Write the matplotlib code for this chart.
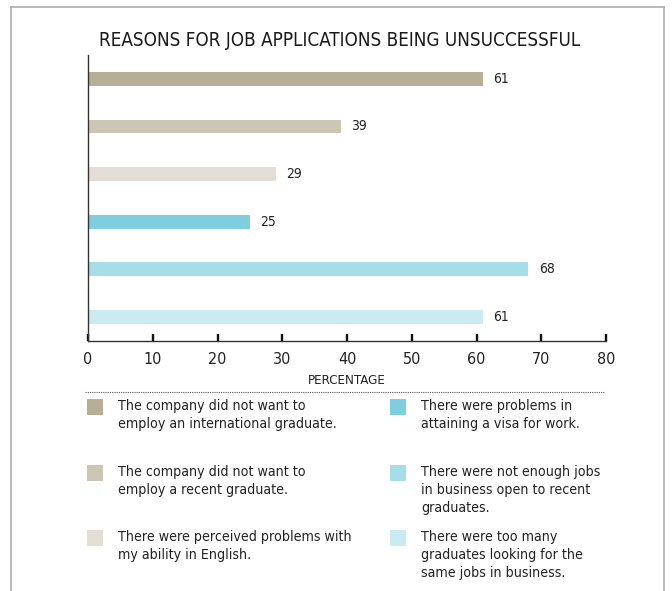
import matplotlib
matplotlib.use("Agg")
import matplotlib.pyplot as plt
from matplotlib.lines import Line2D
from matplotlib.patches import Rectangle

# data
reasons = [
    "The company did not want to\nemploy an international graduate.",
    "The company did not want to\nemploy a recent graduate.",
    "There were perceived problems with\nmy ability in English.",
    "There were problems in\nattaining a visa for work.",
    "There were not enough jobs\nin business open to recent\ngraduates.",
    "There were too many\ngraduates looking for the\nsame jobs in business.",
]
percent = [61, 39, 29, 25, 68, 61]
colors = ["#b7ae96", "#cdc6b4", "#e2ded6", "#7ecedf", "#a6dde8", "#c9ebf1"]
xticks = [0, 10, 20, 30, 40, 50, 60, 70, 80]

plt.rcParams["font.family"] = ["DejaVu Sans"]
plt.rcParams["font.stretch"] = "condensed"
text_col = "#222222"

W, H = 672, 591
fig = plt.figure(figsize=(W / 100, H / 100), dpi=100)


def fx(px):
    return px / W


def fy(py):
    return 1 - py / H


# main axes, placed in pixel terms
ax_l, ax_r, ax_t, ax_b = 88, 606, 55, 340.7
ax = fig.add_axes([fx(ax_l), fy(ax_b), fx(ax_r - ax_l), (ax_b - ax_t) / H])

pos = list(range(len(percent)))
ax.barh(pos, percent, height=0.29, color=colors, zorder=2)
for p, v in zip(pos, percent):
    ax.annotate(str(v), (v, p), xytext=(7.5, 0), textcoords="offset points",
                va="center", ha="left", fontsize=10, color=text_col)

ax.set_xlim(0, 80)
ax.set_ylim(5.5, -0.5)
ax.set_xticks(xticks)
ax.set_yticks([])
ax.tick_params(axis="x", direction="in", length=5, width=1.7, color="#111111",
               labelsize=11.5, labelcolor=text_col, pad=8)
for s in ["top", "right"]:
    ax.spines[s].set_visible(False)
ax.spines["left"].set_color("#333333")
ax.spines["left"].set_linewidth(1.0)
ax.spines["bottom"].set_color("#333333")
ax.spines["bottom"].set_linewidth(1.0)
ax.set_xlabel("PERCENTAGE", fontsize=9.5, color=text_col, labelpad=5)

# title
fig.text(fx(340), fy(41), "REASONS FOR JOB APPLICATIONS BEING UNSUCCESSFUL",
         ha="center", va="center", fontsize=13.5, color="#1a1a1a")

# dotted separator
fig.add_artist(Line2D([fx(85), fx(604)], [fy(391.5), fy(391.5)],
                      linestyle=(0, (1, 1)), linewidth=0.8, color="#555555"))

# outer frame (top, left, right)
frame = "#b3b3b3"
fig.add_artist(Line2D([fx(11), fx(664)], [fy(6.5), fy(6.5)], color=frame, lw=1.3))
fig.add_artist(Line2D([fx(11), fx(11)], [fy(6.5), 0], color=frame, lw=1.3))
fig.add_artist(Line2D([fx(664), fx(664)], [fy(6.5), 0], color=frame, lw=1.3))

# legend, two columns of three
sq = 16
col_x = [87, 390]
row_y = [399, 465, 530]
for i, (lab, c) in enumerate(zip(reasons, colors)):
    cx = col_x[i // 3]
    ry = row_y[i % 3]
    fig.add_artist(Rectangle((fx(cx), fy(ry + sq)), sq / W, sq / H,
                             facecolor=c, edgecolor="none"))
    fig.text(fx(cx + 31), fy(ry), lab, ha="left", va="top",
             fontsize=10.2, color=text_col, linespacing=1.38)

fig.savefig("out.png", dpi=100)
